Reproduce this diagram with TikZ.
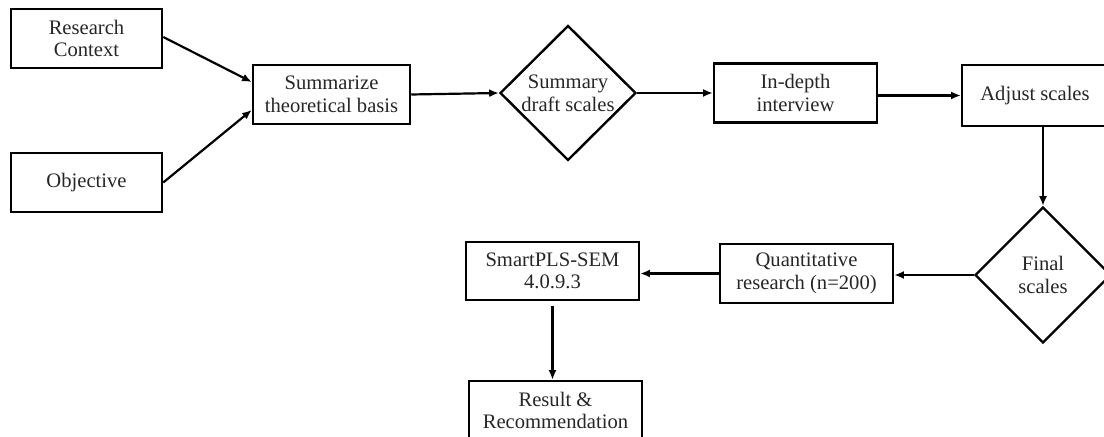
\documentclass[tikz,border=0pt]{standalone}
\usepackage{fontspec}
\setmainfont{Liberation Serif}
\usetikzlibrary{shapes.geometric,arrows.meta}
\begin{document}
\begin{tikzpicture}[x=0.5pt,y=-0.5pt,
  txt/.style={font=\fontsize{10.3}{11.3}\selectfont, text=black!85},
  box/.style={txt, draw, line width=1.25pt, inner sep=0pt, align=center},
  dia/.style={txt, diamond, draw, line width=1.2pt, inner sep=0pt, align=center, minimum width=68pt, minimum height=67.5pt},
  arr/.style={-{Latex[length=4.8pt,width=4pt]}, line width=1.1pt}]
\useasboundingbox (0,0) rectangle (1104,437);
\clip (0,0) rectangle (1104,437);
\node[box, minimum width=75.5pt, minimum height=29.5pt] (rc) at (86.5,38.5) {Research\\Context};
\node[box, minimum width=75.5pt, minimum height=29.5pt] (obj) at (86.5,182.5) {Objective};
\node[box, minimum width=78.5pt, minimum height=29.5pt] (sum) at (331.5,94.5) {Summarize\\theoretical basis};
\node[dia] (dsum) at (568,93) {Summary\\draft scales};
\node[box, minimum width=81.5pt, minimum height=29.5pt] (ind) at (795.5,93) {In-depth\\interview};
\node[box, minimum width=73pt, minimum height=30.5pt] (adj) at (1035,95.5) {Adjust scales};
\node[dia, minimum height=68pt] (fin) at (1043,275) {Final\\scales};
\node[box, minimum width=86.5pt, minimum height=29.5pt] (qua) at (806.5,273.5) {Quantitative\\research (n=200)};
\node[box, minimum width=86.5pt, minimum height=29pt] (spl) at (552.5,271) {SmartPLS-SEM\\4.0.9.3};
\node[box, minimum width=86.5pt, minimum height=29.5pt] (res) at (555.5,410.5) {Result \&\\Recommendation};
\draw[arr] ([yshift=0.75pt]rc.east) -- ([yshift=6.25pt]sum.west);
\draw[arr] (obj.east) -- ([yshift=-7.75pt]sum.west);
\draw[arr] (sum.east) -- (dsum.west);
\draw[arr] (dsum.east) -- (ind.west);
\draw[arr] (adj.west -| ind.east) -- (adj.west);
\draw[arr] (adj.south -| fin.north) -- (fin.north);
\draw[arr] (fin.west) -- (fin.west -| qua.east);
\draw[arr] (qua.west) -- (qua.west -| spl.east);
\draw[arr, shorten <=2.5pt] (spl.south) -- (spl.south |- res.north);
\end{tikzpicture}
\end{document}
